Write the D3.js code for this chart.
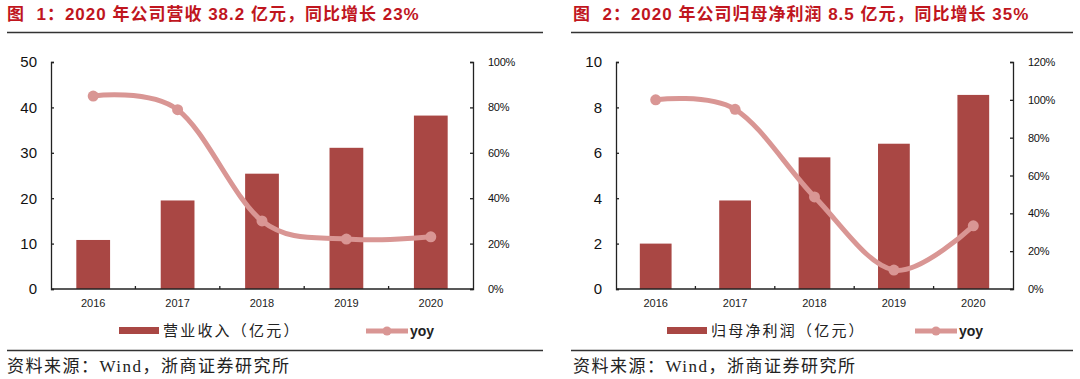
<!DOCTYPE html>
<html>
<head>
<meta charset="utf-8">
<script src="https://cdn.jsdelivr.net/npm/d3@7"></script>
<style>
  body { margin: 0; background: #fff; }
  svg text { font-family: "Liberation Sans", Arial, "Noto Sans CJK SC", sans-serif; }
</style>
</head>
<body>
<div id="chart"></div>
<script>
// data
var years = ["2016", "2017", "2018", "2019", "2020"];

var revenue = [10.8, 19.5, 25.4, 31.1, 38.2];      // 营业收入（亿元）
var revenueYoy = [0.85, 0.79, 0.30, 0.22, 0.23];

var profit = [2.0, 3.9, 5.8, 6.4, 8.55];           // 归母净利润（亿元）
var profitYoy = [1.00, 0.95, 0.487, 0.10, 0.334];

var leftTicks1 = [0, 10, 20, 30, 40, 50];
var rightTicks1 = [0, 0.2, 0.4, 0.6, 0.8, 1.0];
var leftTicks2 = [0, 2, 4, 6, 8, 10];
var rightTicks2 = [0, 0.2, 0.4, 0.6, 0.8, 1.0, 1.2];

var barColor = "#a94744";
var lineColor = "#d99694";
var titleColor = "#c0161e";

var svg = d3.select("#chart")
    .append("svg")
    .attr("width", 1080)
    .attr("height", 379);

function drawPanel(opt) {
    var g = svg.append("g");

    // title
    g.append("text")
        .attr("x", opt.titleX)
        .attr("y", 20)
        .attr("fill", titleColor)
        .attr("font-size", 17)
        .attr("font-weight", "bold")
        .attr("letter-spacing", 1)
        .text(opt.title);

    // rule under title and above source
    g.append("line")
        .attr("x1", opt.ruleX1).attr("x2", opt.ruleX2)
        .attr("y1", 32.5).attr("y2", 32.5)
        .attr("stroke", "#333").attr("stroke-width", 1.5);
    g.append("line")
        .attr("x1", opt.ruleX1).attr("x2", opt.ruleX2)
        .attr("y1", 350.5).attr("y2", 350.5)
        .attr("stroke", "#333").attr("stroke-width", 1.5);

    // scales
    var x = d3.scaleBand()
        .domain(years)
        .range([opt.left, opt.right])
        .paddingInner(0.6)
        .paddingOuter(0.3);
    var y = d3.scaleLinear()
        .domain([0, opt.yMax])
        .range([289, 62]);
    var y2 = d3.scaleLinear()
        .domain([0, opt.y2Max])
        .range([289, 62]);

    // bars
    g.selectAll(".bar")
        .data(opt.bars)
        .enter()
        .append("rect")
        .attr("class", "bar")
        .attr("x", (d, i) => x(years[i]))
        .attr("width", x.bandwidth())
        .attr("y", d => y(d))
        .attr("height", d => y(0) - y(d))
        .attr("fill", barColor);

    // axes
    var leftAxis = d3.axisLeft(y).tickValues(opt.leftTicks).tickSize(-3).tickPadding(14)
        .tickFormat(d3.format("d"));
    var rightAxis = d3.axisRight(y2).tickValues(opt.rightTicks).tickSize(-3).tickPadding(15)
        .tickFormat(d3.format(".0%"));

    var gl = g.append("g")
        .attr("transform", `translate(${opt.left}, 0)`)
        .call(leftAxis);
    gl.selectAll("text").attr("font-size", 15).attr("fill", "#111");

    var gr = g.append("g")
        .attr("transform", `translate(${opt.right}, 0)`)
        .call(rightAxis);
    gr.selectAll("text").attr("font-size", 11).attr("fill", "#111")
        .attr("text-anchor", "start").attr("letter-spacing", -0.3);

    [gl, gr].forEach(function(a) {
        a.select(".domain").attr("stroke", "#222").attr("stroke-width", 1.3);
        a.selectAll(".tick line").attr("stroke", "#222").attr("stroke-width", 1.3);
    });

    // x axis: baseline with small upward ticks at category boundaries
    var gx = g.append("g");
    gx.append("line")
        .attr("x1", opt.left).attr("x2", opt.right)
        .attr("y1", y(0)).attr("y2", y(0))
        .attr("stroke", "#222").attr("stroke-width", 1.3);
    gx.selectAll(".xtick")
        .data(years.slice(1))
        .enter()
        .append("line")
        .attr("x1", d => x(d) - x.step() * x.paddingInner() / 2)
        .attr("x2", d => x(d) - x.step() * x.paddingInner() / 2)
        .attr("y1", y(0)).attr("y2", y(0) - 3)
        .attr("stroke", "#222").attr("stroke-width", 1.3);
    gx.selectAll(".xlab")
        .data(years)
        .enter()
        .append("text")
        .attr("x", d => x(d) + x.bandwidth() / 2)
        .attr("y", 307)
        .attr("text-anchor", "middle")
        .attr("font-size", 11)
        .attr("fill", "#222")
        .text(d => d);

    // smoothed yoy line
    var cx = (d, i) => x(years[i]) + x.bandwidth() / 2;
    var line = d3.line()
        .x(cx)
        .y(d => y2(d))
        .curve(d3.curveCardinal.tension(0));
    g.append("path")
        .datum(opt.yoy)
        .attr("d", line)
        .attr("fill", "none")
        .attr("stroke", lineColor)
        .attr("stroke-width", 5)
        .attr("stroke-linecap", "round");
    g.selectAll(".dot")
        .data(opt.yoy)
        .enter()
        .append("circle")
        .attr("cx", cx)
        .attr("cy", d => y2(d))
        .attr("r", 5.5)
        .attr("fill", lineColor);

    // legend
    var lg = g.append("g");
    lg.append("rect")
        .attr("x", opt.legX).attr("y", 327)
        .attr("width", 40).attr("height", 7)
        .attr("fill", barColor);
    lg.append("text")
        .attr("x", opt.legX + 44).attr("y", 336)
        .attr("font-size", 15)
        .attr("letter-spacing", 2.2)
        .style("font-family", "'Noto Sans CJK SC', sans-serif")
        .attr("fill", "#222")
        .text(opt.legLabel);
    lg.append("line")
        .attr("x1", opt.yoyX).attr("x2", opt.yoyX + 42)
        .attr("y1", 331).attr("y2", 331)
        .attr("stroke", lineColor).attr("stroke-width", 5);
    lg.append("circle")
        .attr("cx", opt.yoyX + 21).attr("cy", 331).attr("r", 4.5)
        .attr("fill", lineColor);
    lg.append("text")
        .attr("x", opt.yoyX + 44).attr("y", 336)
        .attr("font-size", 14)
        .attr("font-weight", "bold")
        .attr("fill", "#222")
        .text("yoy");

    // source
    g.append("text")
        .attr("x", opt.titleX)
        .attr("y", 372)
        .attr("font-size", 17)
        .attr("letter-spacing", 1.5)
        .style("font-family", "'Liberation Serif', 'Noto Sans CJK SC', serif")
        .attr("fill", "#222")
        .text("资料来源：Wind，浙商证券研究所");
}

drawPanel({
    title: "图\u00a0\u00a01：2020 年公司营收 38.2 亿元，同比增长 23%",
    titleX: 7, ruleX1: 7, ruleX2: 543,
    left: 51, right: 473,
    yMax: 50, y2Max: 1.0,
    leftTicks: leftTicks1, rightTicks: rightTicks1,
    bars: revenue, yoy: revenueYoy,
    legX: 119, legLabel: "营业收入（亿元）", yoyX: 366
});

drawPanel({
    title: "图\u00a0\u00a02：2020 年公司归母净利润 8.5 亿元，同比增长 35%",
    titleX: 573, ruleX1: 571, ruleX2: 1073,
    left: 616, right: 1013,
    yMax: 10, y2Max: 1.2,
    leftTicks: leftTicks2, rightTicks: rightTicks2,
    bars: profit, yoy: profitYoy,
    legX: 667, legLabel: "归母净利润（亿元）", yoyX: 915
});
</script>
</body>
</html>
